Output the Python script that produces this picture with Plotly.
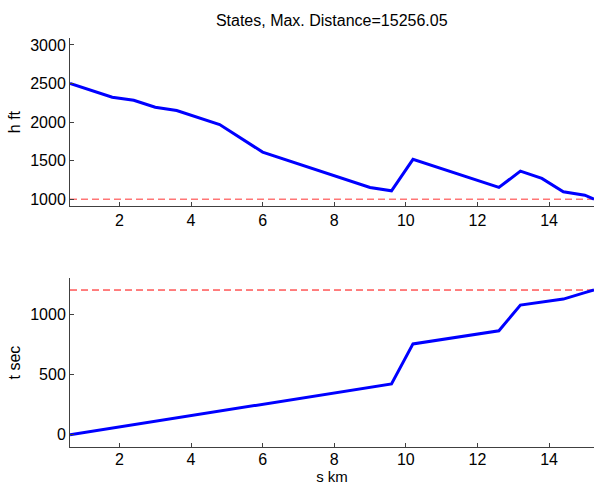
import plotly.graph_objects as go

# ---- data ----
s_km = [0.62, 1.8, 2.4, 3.0, 3.6, 4.8, 6.0, 9.0, 9.6, 10.2, 12.6, 13.2, 13.8, 14.4, 15.0, 15.256]
h_ft = [2500, 2322, 2283, 2192, 2150, 1968, 1610, 1152, 1108, 1516, 1152, 1364, 1269, 1095, 1052, 1000]
t_sec = [0, 55, 83, 112, 140, 196, 252, 393, 421, 753, 862, 1075, 1100, 1125, 1178, 1200]
h_min = 1000
t_max = 1200
x_ticks = [2, 4, 6, 8, 10, 12, 14]
h_ticks = [1000, 1500, 2000, 2500, 3000]
t_ticks = [0, 500, 1000]
title_text = "States, Max. Distance=15256.05"

FONT = "Liberation Sans, Arial, Helvetica, sans-serif"
AX = "#404040"
blue = "#0000ff"

fig = go.Figure()
xr = [s_km[0], s_km[-1]]

fig.add_trace(go.Scatter(x=xr, y=[h_min, h_min], mode="lines", xaxis="x", yaxis="y",
                         line=dict(color="rgba(255,60,60,0.7)", width=1.5, dash="7px,4px"), hoverinfo="skip"))
fig.add_trace(go.Scatter(x=s_km, y=h_ft, mode="lines", xaxis="x", yaxis="y",
                         line=dict(color=blue, width=3)))
fig.add_trace(go.Scatter(x=xr, y=[t_max, t_max], mode="lines", xaxis="x2", yaxis="y2",
                         line=dict(color="red", width=1, dash="7px,4px"), hoverinfo="skip"))
fig.add_trace(go.Scatter(x=s_km, y=t_sec, mode="lines", xaxis="x2", yaxis="y2",
                         line=dict(color=blue, width=3)))

axis_common = dict(showline=True, linecolor=AX, linewidth=1, ticks="inside", ticklen=4,
                   tickcolor=AX, tickwidth=1, showgrid=False, zeroline=False,
                   tickfont=dict(family=FONT, size=16, color="black"), mirror=False)

fig.update_layout(
    width=594, height=485,
    margin=dict(l=70, r=0, t=38, b=38),
    paper_bgcolor="white", plot_bgcolor="white",
    showlegend=False,
    font=dict(family=FONT, size=16, color="black"),
    title=dict(text=title_text, x=0.5585, xanchor="center", y=0.957, yanchor="middle",
               font=dict(family=FONT, size=16, color="black")),
    xaxis=dict(domain=[0, 1], anchor="y", range=xr, tickvals=x_ticks, **axis_common),
    yaxis=dict(domain=[0.589, 1], anchor="x", range=[910, 3090], tickvals=h_ticks,
               title=dict(text="h ft", standoff=5, font=dict(family=FONT, size=16)), **axis_common),
    xaxis2=dict(domain=[0, 1], anchor="y2", range=xr, tickvals=x_ticks, ticklabelstandoff=-2,
                title=dict(text="s km", standoff=5, font=dict(family=FONT, size=15)), **axis_common),
    yaxis2=dict(domain=[0, 0.413], anchor="x2", range=[-102, 1299], tickvals=t_ticks,
                title=dict(text="t sec", standoff=5, font=dict(family=FONT, size=16)), **axis_common),
)

fig.write_html("out.html")
